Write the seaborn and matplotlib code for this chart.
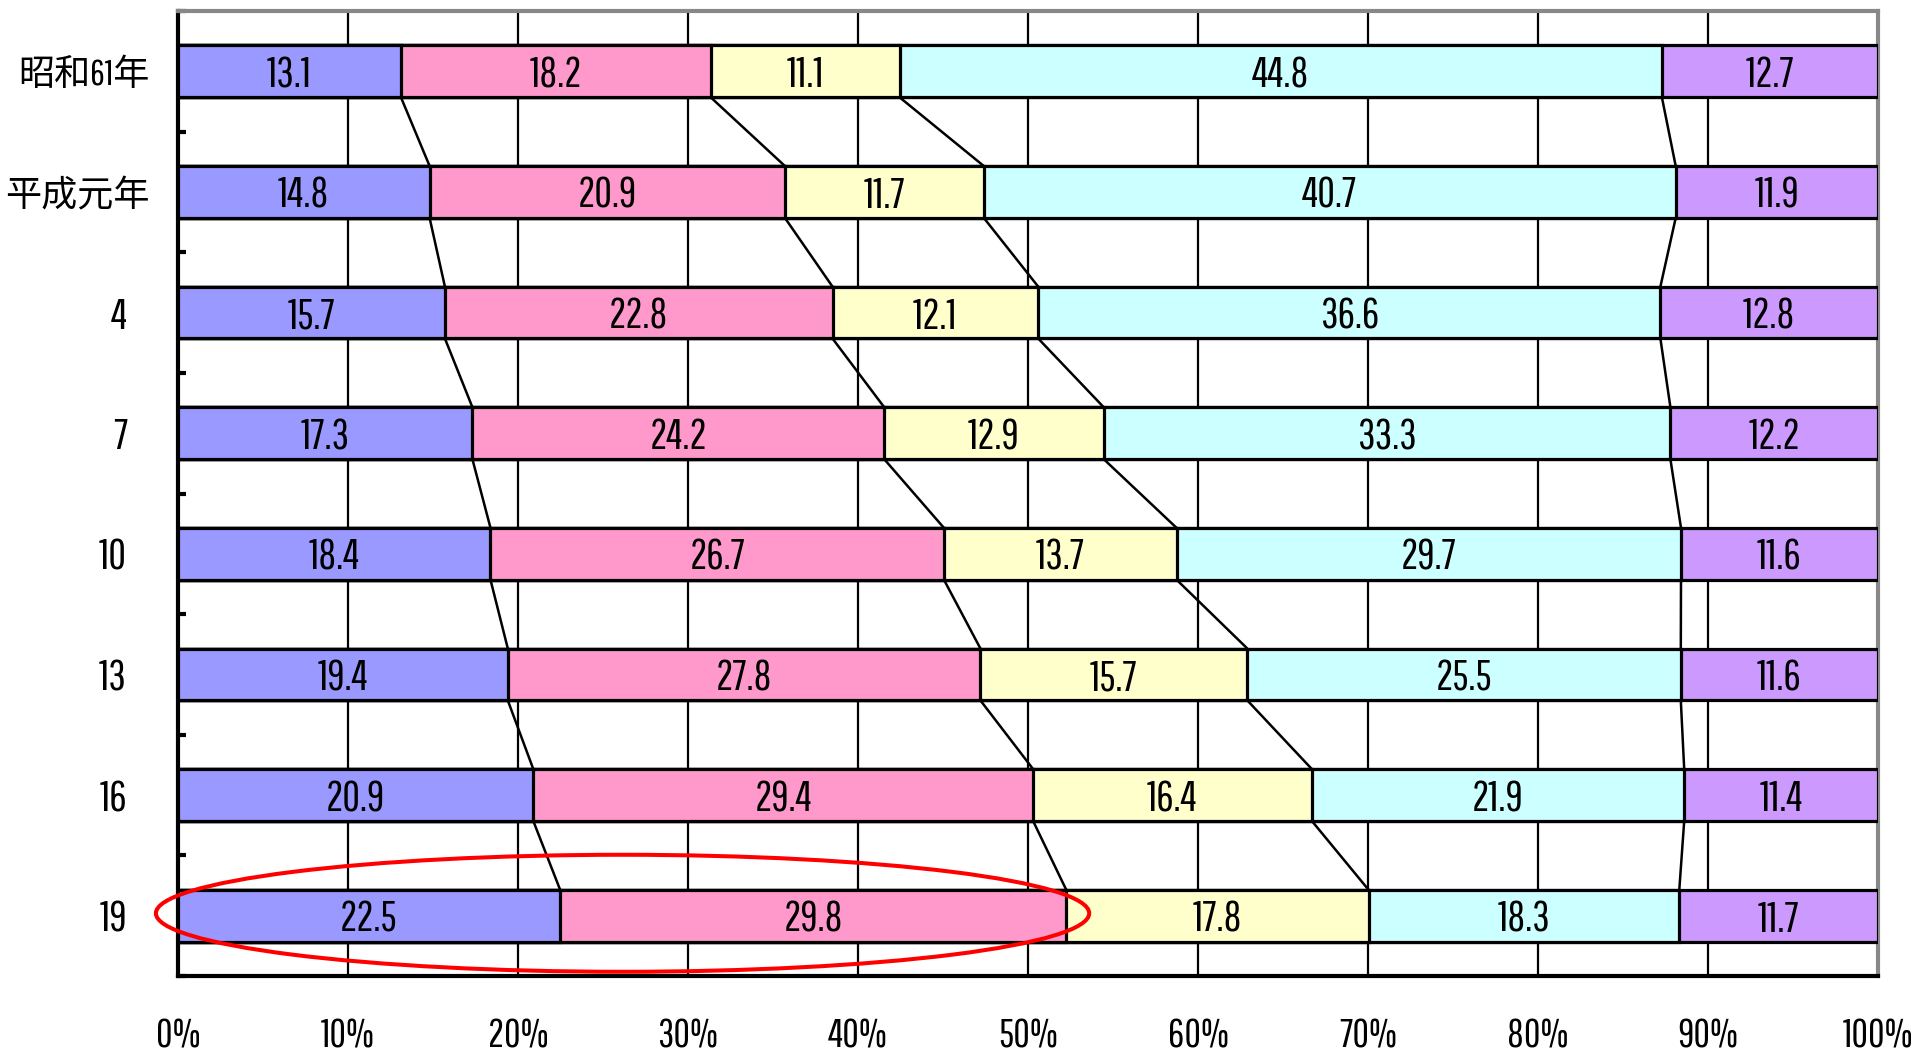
import numpy as np
import pandas as pd
import matplotlib
matplotlib.use("Agg")
import matplotlib.pyplot as plt
from matplotlib import font_manager
from matplotlib.patches import Ellipse
import seaborn as sns

# Survey years (row labels, top to bottom)
years = ["昭和61年", "平成元年", "4", "7", "10", "13", "16", "19"]

# Share of each of the five groups per year (percent)
group1 = [13.1, 14.8, 15.7, 17.3, 18.4, 19.4, 20.9, 22.5]
group2 = [18.2, 20.9, 22.8, 24.2, 26.7, 27.8, 29.4, 29.8]
group3 = [11.1, 11.7, 12.1, 12.9, 13.7, 15.7, 16.4, 17.8]
group4 = [44.8, 40.7, 36.6, 33.3, 29.7, 25.5, 21.9, 18.3]
group5 = [12.7, 11.9, 12.8, 12.2, 11.6, 11.6, 11.4, 11.7]

x_ticks = [0, 10, 20, 30, 40, 50, 60, 70, 80, 90, 100]
x_tick_labels = ["0%", "10%", "20%", "30%", "40%", "50%", "60%", "70%", "80%", "90%", "100%"]

colors = ["#9999FF", "#FF99CC", "#FFFFCC", "#CCFFFF", "#CC99FF"]

sns.set_theme(style="white")
installed = {f.name for f in font_manager.fontManager.ttflist}
narrow_choices = ["Pathway Gothic One", "Antonio", "Saira Extra Condensed",
                  "Roboto Condensed", "Barlow Condensed", "Archivo Narrow",
                  "IBM Plex Sans Condensed", "DejaVu Sans"]
narrow = next(f for f in narrow_choices if f in installed)
families = [narrow, "Noto Sans CJK JP", "DejaVu Sans"]
plt.rcParams["font.family"] = families

values = np.array([group1, group2, group3, group4, group5]).T  # rows = years
totals = values.sum(axis=1, keepdims=True)
shares = values / totals * 100
cum = np.cumsum(shares, axis=1)
starts = cum - shares

W, H = 1917, 1058
fig = plt.figure(figsize=(W / 100, H / 100), dpi=100)
left_px, right_px, top_px, bottom_px = 178, 1878, 11, 976
ax = fig.add_axes([left_px / W, 1 - bottom_px / H,
                   (right_px - left_px) / W, (bottom_px - top_px) / H])

bar_h = 0.43

# 100% stacked bars: draw cumulative ends from the widest down
for k in range(4, -1, -1):
    df = pd.DataFrame({"year": years, "end": cum[:, k]})
    sns.barplot(data=df, x="end", y="year", order=years, orient="y",
                color=colors[k], saturation=1, width=bar_h,
                edgecolor="black", linewidth=2.3, errorbar=None,
                ax=ax, zorder=3)

# connector lines between segment boundaries of consecutive years
for i in range(len(years) - 1):
    for k in range(4):
        ax.plot([cum[i, k], cum[i + 1, k]],
                [i + bar_h / 2, i + 1 - bar_h / 2],
                color="black", lw=1.8, zorder=2, solid_capstyle="butt")

# segment value labels
for i in range(len(years)):
    for k in range(5):
        ax.text((starts[i, k] + cum[i, k]) / 2, i, f"{values[i, k]:.1f}",
                ha="center", va="center_baseline", fontsize=31, color="black",
                zorder=4)

ax.set_xlim(0, 100)
ax.set_ylim(len(years) - 0.5, -0.5)
ax.set_xlabel("")
ax.set_ylabel("")

ax.set_xticks(x_ticks)
ax.set_xticklabels([])
ax.xaxis.grid(True, color="black", lw=1.6, zorder=0)
ax.yaxis.grid(False)
ax.set_axisbelow(True)
ax.tick_params(axis="x", length=0)

ax.set_yticks(range(len(years)))
ax.set_yticklabels([])
ax.tick_params(axis="y", which="major", length=0)
ax.set_yticks(np.arange(-0.5, len(years), 1.0), minor=True)
ax.tick_params(axis="y", which="minor", direction="in", length=6,
               width=3, color="black", left=True)

for side in ["left", "bottom"]:
    ax.spines[side].set_color("black")
    ax.spines[side].set_linewidth(3)
for side in ["top", "right"]:
    ax.spines[side].set_color("#888888")
    ax.spines[side].set_linewidth(3)

# year labels on the left
ytr = ax.get_yaxis_transform()
span = right_px - left_px
for i, lab in enumerate(years):
    if lab.isdigit():
        ax.text(-51 / span, i, lab, transform=ytr, ha="right",
                va="center_baseline", fontsize=31, color="black")
    else:
        ax.text(-28 / span, i, lab, transform=ytr, ha="right",
                va="center_baseline", fontsize=26, color="black")

# percentage labels under the axis
xtr = ax.get_xaxis_transform()
for t, lab in zip(x_ticks, x_tick_labels):
    ax.text(t, -72 / (bottom_px - top_px), lab, transform=xtr,
            ha="center", va="baseline", fontsize=29, color="black")

# highlight of the latest year's first two groups
ax.add_patch(Ellipse((26.15, 6.98), 54.9, 0.97, fill=False,
                     edgecolor="#FF0000", lw=2.9, clip_on=False, zorder=6))

fig.savefig("out.png", dpi=100, facecolor="white")
